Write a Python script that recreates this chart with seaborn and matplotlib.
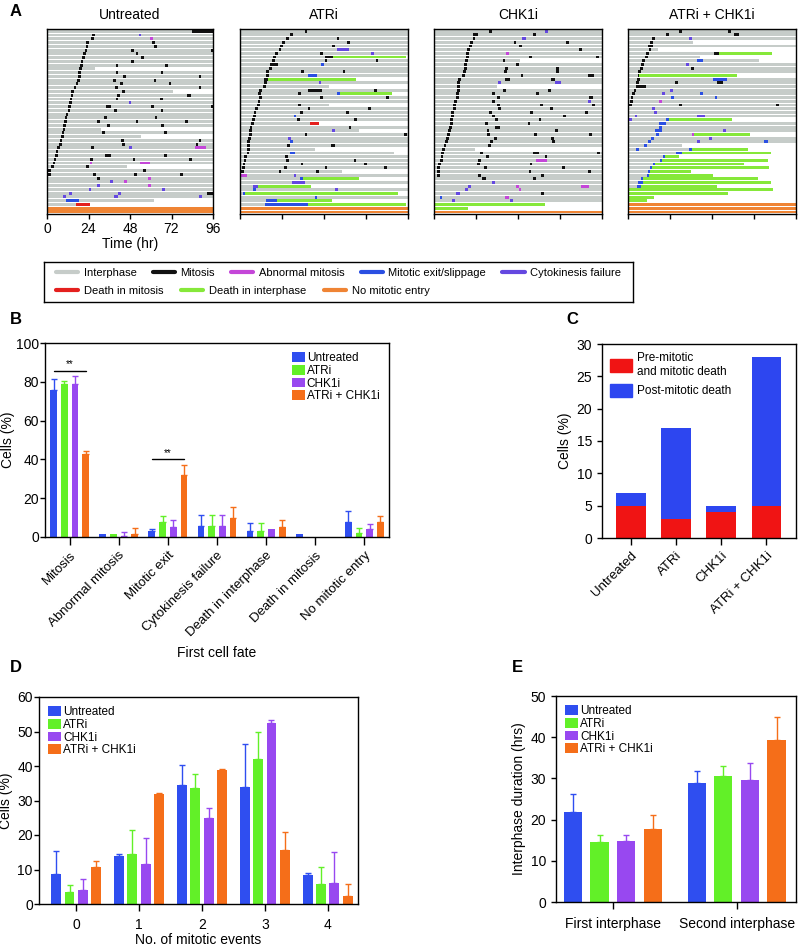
import numpy as np
import pandas as pd
import matplotlib
matplotlib.use('Agg')
import matplotlib.pyplot as plt
from matplotlib.lines import Line2D
from matplotlib.patches import Patch
import seaborn as sns

# ---------------- DATA ----------------
groups = ['Untreated', 'ATRi', 'CHK1i', 'ATRi + CHK1i']
group_colors = ['#2f4ef0', '#62f028', '#9848f0', '#f56e19']

# Panel A: single cell traces. first = time of first mitosis per row (starting at *_first_row),
# events = (row, start hr, duration hr, kind), stops = rows whose track ends before 96 h
untreated_rows = 49
untreated_first_row = 1
untreated_first = [26.3, 25.7, 22.7, 22.3, 21.7, 20.7, 20.2, 19.4, 19.0, 18.6, 18.2, 17.9, 17.5,
                   16.5, 15.4, 13.8, 13.6, 13.1, 12.7, 12.3, 11.9, 10.8, 10.2, 9.8, 9.4, 9.0,
                   8.4, 8.1, 7.3, 6.9, 5.8, 5.0, 4.6, 3.8, 3.3, 2.3, 0.8, 0.6]
untreated_stops = {10: 28, 16: 73, 26: 31, 28: 54.5, 36: 46, 45: 62, 46: 25}
untreated_events = [
    (0, 84, 12, 'M'), (1, 53, 1.6, 'C'), (2, 59.5, 1.6, 'A'), (3, 61, 1.6, 'M'), (4, 62, 1.6, 'M'),
    (5, 48.5, 1.6, 'M'), (5, 95, 1, 'M'), (6, 51.3, 1.6, 'M'), (7, 54.3, 1.6, 'M'), (8, 48.6, 1.6, 'M'),
    (9, 39.7, 1.6, 'M'), (9, 68.5, 1.6, 'M'), (11, 39.7, 1.6, 'M'), (11, 65.7, 1.6, 'M'),
    (12, 43.8, 1.6, 'M'), (12, 87.7, 1.6, 'M'), (13, 38.4, 1.6, 'M'), (13, 61.6, 1.6, 'M'),
    (14, 42.2, 1.6, 'M'), (14, 70.3, 1.6, 'M'), (15, 39.4, 1.6, 'M'), (15, 87.7, 1.6, 'M'),
    (16, 43.4, 1.6, 'M'), (17, 40.7, 1.6, 'M'), (17, 81, 2.2, 'M'), (18, 39.7, 1.6, 'M'),
    (18, 65.3, 1.6, 'M'), (19, 47.2, 1.6, 'C'), (20, 34, 3, 'M'), (20, 60.3, 1.6, 'M'),
    (20, 95, 1, 'M'), (21, 39, 1.6, 'M'), (21, 65.7, 1.6, 'M'), (23, 33, 1.6, 'M'),
    (23, 62.2, 1.6, 'M'), (24, 28.8, 1.6, 'M'), (24, 51.3, 1.6, 'M'), (24, 79.9, 1.6, 'M'),
    (25, 34.6, 1.6, 'M'), (25, 66, 1.6, 'M'), (27, 31.9, 1.6, 'M'), (27, 67.6, 1.6, 'M'),
    (29, 42.8, 1.6, 'M'), (29, 87.7, 1.6, 'M'), (30, 43.6, 1.6, 'M'), (30, 86, 1.6, 'M'),
    (31, 25.3, 2, 'M'), (31, 47.4, 1.6, 'C'), (31, 85.4, 6.8, 'A'), (33, 33.6, 3.3, 'M'),
    (33, 67.6, 1.6, 'M'), (34, 24.8, 1.6, 'M'), (34, 49.5, 1.6, 'M'), (34, 82, 1.6, 'M'),
    (35, 24.6, 1.6, 'A'), (35, 53.8, 5.7, 'A'), (36, 22.8, 1.6, 'M'), (37, 55.7, 1.6, 'M'),
    (38, 26.5, 1.6, 'M'), (38, 50.3, 1.6, 'M'), (38, 76.8, 1.6, 'M'), (39, 29, 1.6, 'M'),
    (39, 58.6, 1.6, 'A'), (40, 36.3, 1.6, 'C'), (40, 44.7, 1.6, 'A'), (41, 29.2, 1.6, 'C'),
    (41, 58.4, 1.6, 'A'), (42, 24, 1.5, 'C'), (42, 66.6, 1.6, 'C'), (43, 12.7, 1.6, 'C'),
    (43, 41.3, 1.6, 'C'), (43, 92.5, 3.5, 'M'), (44, 9.4, 1.6, 'C'), (44, 38.8, 2.5, 'C'),
    (44, 88, 1.6, 'C'), (45, 10.8, 7.6, 'X'), (46, 16.9, 8.1, 'D'),
    (47, 0, 96, 'N'), (48, 0, 96, 'N'),
]

atri_rows = 50
atri_first_row = 0
atri_first = [36.9, 28.8, 26.5, 24.1, 22.7, 22.0, 19.9, 18.7, 18.3, 17.2, 16.8, 15.1, 14.7, 13.9,
              13.9, 13.2, 10.9, 10.5, 10.9, 10.1, 9.6, 8.6, 7.8, 7.4, 7.1, 6.3, 5.5, 5.3, 5.2,
              4.6, 4.2, 4.2, 4.2, 3.8, 2.5, 2.1, 1.5, 1.0, 0.6]
atri_stops = {7: 95, 13: 66, 15: 51, 17: 87, 20: 51, 25: 45, 27: 68, 32: 43, 33: 88, 38: 58.4,
              40: 68, 42: 40.7, 44: 90.3, 46: 52.3, 47: 95}
atri_events = [
    (2, 55.2, 1.6, 'M'), (3, 61.3, 1.6, 'M'), (4, 52.7, 1.6, 'M'), (5, 55.4, 6.9, 'C'),
    (6, 45.8, 1.6, 'M'), (6, 75, 1.6, 'C'), (7, 48.7, 4.4, 'M'), (7, 53.1, 42, 'I'),
    (8, 48.3, 1.6, 'M'), (8, 77.5, 1.6, 'M'), (9, 17.2, 4.6, 'M'), (9, 46.4, 1.6, 'X'),
    (11, 35, 1.6, 'M'), (11, 58.6, 1.6, 'M'), (12, 39, 5, 'X'), (13, 13.9, 2.1, 'M'),
    (13, 16, 50, 'I'), (14, 44.9, 1.6, 'C'), (16, 39, 7.6, 'M'), (16, 76.4, 1.6, 'M'),
    (17, 33.4, 1.6, 'M'), (17, 55.4, 1.9, 'X'), (17, 57.3, 29.8, 'I'), (18, 45.8, 1.6, 'M'),
    (18, 83.3, 1.6, 'M'), (20, 33, 1.6, 'M'), (21, 38.6, 1.6, 'M'), (21, 73.2, 1.6, 'M'),
    (22, 34.2, 1.6, 'M'), (22, 60.7, 1.6, 'M'), (23, 30.6, 1.6, 'X'), (24, 32.5, 1.6, 'M'),
    (24, 65.3, 1.6, 'M'), (25, 40.1, 5, 'D'), (26, 62, 1.6, 'M'), (27, 52.7, 1.6, 'C'),
    (28, 36.9, 1.6, 'M'), (28, 93.6, 1.6, 'M'), (29, 27.3, 1.6, 'C'), (30, 28.5, 1.6, 'X'),
    (31, 27.1, 1.6, 'M'), (31, 52.1, 2.4, 'M'), (33, 28.6, 3.1, 'X'), (34, 25.8, 1.6, 'M'),
    (35, 26.2, 1.6, 'M'), (35, 64.9, 1.6, 'M'), (36, 34.6, 1.6, 'M'), (36, 70.7, 1.6, 'M'),
    (37, 25, 1.6, 'M'), (37, 48.3, 1.6, 'M'), (37, 82.5, 1.6, 'M'), (38, 22, 1.6, 'M'),
    (38, 43.5, 1.6, 'M'), (39, 0.6, 3.2, 'A'), (39, 30.6, 1.6, 'C'), (40, 34.4, 1.5, 'X'),
    (40, 35.9, 32.1, 'I'), (41, 29.8, 7.4, 'C'), (42, 7.6, 2.7, 'C'), (42, 10.3, 30.4, 'I'),
    (43, 7.3, 1.6, 'X'), (43, 54.4, 1.6, 'C'), (44, 1.9, 1.1, 'X'), (44, 3, 87.3, 'I'),
    (45, 42.6, 1.6, 'X'), (46, 14.9, 6.1, 'X'), (46, 21, 31.3, 'I'), (47, 14.5, 24.3, 'X'),
    (47, 38.8, 56.3, 'I'), (48, 0, 96, 'N'), (49, 0, 96, 'N'),
]

chk1i_rows = 50
chk1i_first_row = 0
chk1i_first = [31.5, 22.0, 22.0, 20.6, 20.0, 19.1, 18.5, 18.5, 17.6, 17.0, 17.0, 16.8, 16.2, 13.9,
               13.4, 13.0, 13.0, 12.6, 12.4, 11.7, 11.1, 11.1, 9.9, 9.6, 9.2, 9.0, 8.8, 8.2, 7.6,
               6.9, 6.3, 5.5, 4.8, 4.2, 3.8, 3.4, 2.5, 1.9, 1.7, 1.9]
chk1i_stops = {8: 49.3, 15: 36, 32: 23.3, 47: 63.6, 48: 19.7}
chk1i_events = [
    (0, 63.6, 1.6, 'C'), (1, 22, 3.4, 'M'), (1, 56.7, 1.6, 'M'), (2, 50, 2.5, 'C'),
    (3, 45.5, 1.6, 'M'), (3, 75.4, 1.6, 'M'), (4, 48.5, 1.6, 'M'), (5, 83, 1.6, 'M'),
    (6, 41.3, 1.6, 'A'), (7, 54.4, 1.6, 'M'), (7, 92.6, 1.6, 'M'), (8, 39.2, 1.6, 'M'),
    (9, 47, 1.6, 'M'), (10, 40.7, 1.6, 'M'), (10, 69.7, 1.6, 'M'), (11, 40, 1.6, 'M'),
    (11, 69.7, 1.6, 'M'), (12, 49.5, 1.6, 'M'), (12, 88, 3.7, 'M'), (13, 40.5, 3.2, 'M'),
    (13, 66.8, 2.5, 'M'), (14, 36.7, 1.6, 'C'), (14, 69.3, 3.5, 'C'), (16, 39.5, 1.6, 'M'),
    (16, 65, 1.6, 'M'), (17, 33.2, 1.6, 'M'), (17, 58.3, 1.6, 'M'), (18, 88.8, 2, 'M'),
    (18, 36, 1.6, 'M'), (19, 33, 1.6, 'M'), (19, 88, 1.6, 'C'), (20, 60.7, 1.6, 'M'),
    (20, 90.3, 1.6, 'M'), (20, 36, 1.6, 'M'), (21, 36.5, 1.6, 'M'), (21, 66.5, 1.6, 'M'),
    (22, 31.3, 1.6, 'M'), (22, 54.8, 1.6, 'M'), (22, 86.3, 1.8, 'M'), (23, 73.9, 1.6, 'M'),
    (23, 33, 1.6, 'M'), (24, 35, 1.6, 'M'), (24, 59.8, 1.6, 'M'), (25, 29.2, 1.6, 'M'),
    (25, 53.5, 1.6, 'M'), (26, 35, 2.8, 'M'), (27, 69.1, 1.6, 'M'), (27, 30, 1.6, 'M'),
    (28, 30.2, 1.6, 'M'), (28, 57.3, 1.6, 'M'), (28, 88.8, 1.6, 'M'), (29, 34.4, 1.6, 'M'),
    (29, 67, 1.6, 'M'), (30, 31.9, 1.6, 'M'), (30, 67.5, 1.6, 'M'), (31, 31, 1.6, 'M'),
    (33, 26.4, 1.6, 'M'), (33, 56.3, 3.9, 'M'), (33, 93.2, 1.6, 'M'), (34, 29.6, 1.6, 'M'),
    (34, 63.2, 1.6, 'M'), (35, 25.2, 1.6, 'M'), (35, 58.3, 6.3, 'A'), (36, 24.4, 1.6, 'M'),
    (36, 54.6, 1.6, 'M'), (37, 28.8, 1.6, 'M'), (37, 73, 1.6, 'M'), (38, 54, 1.6, 'M'),
    (38, 88, 1.6, 'M'), (39, 25, 1.6, 'M'), (39, 61.1, 1.6, 'M'), (40, 27.5, 2.1, 'M'),
    (40, 56.7, 1.6, 'M'), (41, 33.2, 1.6, 'C'), (42, 19.7, 1.6, 'C'), (42, 47, 1.6, 'A'),
    (42, 84, 4.8, 'A'), (43, 17.8, 1.6, 'C'), (43, 48.3, 1.6, 'A'), (44, 12.4, 2.3, 'C'),
    (44, 61.3, 1.6, 'M'), (45, 3.2, 1.6, 'X'), (45, 40.5, 2.1, 'A'), (46, 10.5, 1.6, 'C'),
    (46, 43.5, 1.6, 'C'), (47, 0, 63.6, 'I'), (48, 0, 19.7, 'I'), (49, 0, 96, 'N'),
]

combo_rows = 50
combo_first_row = 0
combo_first = [29.4, 21.6, 13.9, 12.6, 11.6, 11.8, 10.5, 9.7, 8.2, 7.3, 6.7, 5.7, 5.5, 5.2, 4.4,
               4.4, 3.2, 2.3, 1.5, 1.0, 0.6]
combo_stops = {3: 37.4, 5: 17.4, 6: 82.3, 7: 41, 8: 75, 12: 62, 24: 59.4, 28: 69.7, 31: 30.8,
               32: 68.8, 33: 81.8, 34: 29.2, 35: 79.8, 36: 66.5, 37: 80.8, 38: 35.9, 39: 48.3,
               40: 74.5, 41: 81.9, 42: 50.8, 43: 83.1, 44: 57.3, 45: 14.9, 46: 10.7}
combo_events = [
    (0, 57.3, 1.6, 'M'), (1, 60.3, 3.3, 'M'), (2, 35.1, 1.6, 'C'), (4, 11.6, 2.7, 'M'),
    (6, 49.3, 2.8, 'M'), (6, 52.1, 30.2, 'I'), (8, 39.7, 3.3, 'X'), (9, 33.4, 1.6, 'C'),
    (10, 36.1, 1.6, 'M'), (12, 6.3, 55.7, 'I'), (13, 48.7, 7.8, 'X'), (14, 26.9, 1.6, 'M'),
    (14, 50.6, 3.4, 'M'), (15, 4.4, 6.1, 'M'), (16, 24, 1.6, 'C'), (17, 19.5, 1.6, 'C'),
    (17, 41.2, 1.6, 'X'), (18, 24.6, 1.6, 'X'), (18, 49.5, 1.6, 'X'), (19, 17.8, 1.6, 'A'),
    (20, 29.4, 1.6, 'M'), (20, 84.6, 1.6, 'M'), (21, 13.6, 1.6, 'C'), (22, 14.9, 1.6, 'C'),
    (23, 3.8, 1.6, 'C'), (23, 39.2, 4.9, 'C'), (24, 0.8, 1.6, 'C'), (24, 21.6, 1.6, 'X'),
    (24, 23.2, 36.2, 'I'), (25, 17.8, 3.8, 'X'), (26, 17.8, 1.6, 'X'), (27, 15.5, 4.2, 'X'),
    (27, 54.4, 1.6, 'C'), (28, 15.9, 1.6, 'X'), (28, 36.5, 1, 'A'), (28, 37.5, 32.2, 'I'),
    (29, 13.4, 1.6, 'X'), (29, 46.4, 1.6, 'C'), (30, 11.3, 1.6, 'X'), (30, 39.3, 1.6, 'C'),
    (30, 77.5, 2.5, 'X'), (31, 9.2, 1.6, 'X'), (32, 4.8, 1.6, 'X'), (32, 35.1, 1.6, 'X'),
    (32, 36.7, 32.1, 'I'), (33, 27.7, 3.4, 'X'), (33, 31.1, 50.7, 'I'), (34, 20.2, 1.2, 'X'),
    (34, 21.4, 7.8, 'I'), (35, 18.1, 1.2, 'X'), (35, 19.3, 60.5, 'I'), (36, 14.3, 1.2, 'X'),
    (36, 15.5, 51, 'I'), (37, 12.4, 1.2, 'X'), (37, 13.6, 67.2, 'I'), (38, 11.5, 1.2, 'X'),
    (38, 12.7, 23.2, 'I'), (39, 10.7, 1.2, 'X'), (39, 11.9, 36.4, 'I'), (40, 7.4, 1.2, 'X'),
    (40, 8.6, 65.9, 'I'), (41, 5.9, 2.7, 'X'), (41, 8.6, 73.3, 'I'), (42, 5.3, 2.3, 'X'),
    (42, 7.6, 43.2, 'I'), (43, 0, 83.1, 'I'), (44, 0, 57.3, 'I'), (45, 0, 14.9, 'I'),
    (46, 0, 10.7, 'I'), (47, 0, 96, 'N'), (48, 0, 96, 'N'), (49, 0, 96, 'N'),
]

fate_kinds = ['P', 'M', 'A', 'X', 'C', 'D', 'I', 'N']
fate_labels = ['Interphase', 'Mitosis', 'Abnormal mitosis', 'Mitotic exit/slippage',
               'Cytokinesis failure', 'Death in mitosis', 'Death in interphase', 'No mitotic entry']
fate_colors = ['#c6ccc9', '#111111', '#c446d8', '#2a4fe2', '#6448e0', '#e4201e', '#86e83a', '#ef8434']

# Panel B
fate_cats = ['Mitosis', 'Abnormal mitosis', 'Mitotic exit', 'Cytokinesis failure',
             'Death in interphase', 'Death in mitosis', 'No mitotic entry']
fate_untreated = [76, 1.7, 2.9, 5.9, 2.9, 1.7, 7.9]
fate_atri = [78.8, 1.7, 7.8, 5.9, 2.9, 0, 1.9]
fate_chk1i = [78.8, 0.7, 5, 5.9, 4, 0, 4]
fate_combo = [43, 1.7, 31.8, 9.8, 5, 0, 7.9]
fate_untreated_err = [5.5, 0, 1.4, 5.5, 4.2, 0, 5.7]
fate_atri_err = [1.7, 0, 2.9, 5.5, 4.2, 0, 2.9]
fate_chk1i_err = [4.4, 1.7, 4, 5.5, 0, 0, 2.6]
fate_combo_err = [1.2, 3.1, 5.5, 5.9, 4, 0, 2.8]

# Panel C
death_cats = ['Untreated', 'ATRi', 'CHK1i', 'ATRi + CHK1i']
death_pre = [5, 3, 4, 5]
death_post = [2, 14, 1, 23]

# Panel D
event_cats = ['0', '1', '2', '3', '4']
events_untreated = [8.7, 13.8, 34.5, 33.8, 8.3]
events_atri = [3.5, 14.5, 33.6, 41.9, 5.8]
events_chk1i = [4.1, 11.5, 25, 52.5, 6]
events_combo = [10.7, 31.9, 38.8, 15.6, 2.3]
events_untreated_err = [6.8, 0.6, 5.7, 12.6, 0.8]
events_atri_err = [1.9, 7, 4.1, 8, 5]
events_chk1i_err = [3.1, 7.7, 2.8, 0.8, 9]
events_combo_err = [1.9, 0.3, 0.2, 5.2, 3.5]

# Panel E
phase_cats = ['First interphase', 'Second interphase']
phase_untreated = [21.9, 28.8]
phase_atri = [14.5, 30.5]
phase_chk1i = [14.8, 29.6]
phase_combo = [17.8, 39.3]
phase_untreated_err = [4.4, 3.1]
phase_atri_err = [1.7, 2.6]
phase_chk1i_err = [1.4, 4.2]
phase_combo_err = [3.3, 5.7]

# ---------------- STYLE ----------------
sns.set_style('ticks', {'axes.edgecolor': 'black', 'xtick.color': 'black', 'ytick.color': 'black',
                        'text.color': 'black', 'axes.labelcolor': 'black'})
plt.rcParams['font.family'] = ['Liberation Sans', 'DejaVu Sans']
plt.rcParams['axes.linewidth'] = 1.0
plt.rcParams['xtick.major.width'] = 1.0
plt.rcParams['ytick.major.width'] = 1.0
plt.rcParams['xtick.major.size'] = 3.5
plt.rcParams['ytick.major.size'] = 3.5

W, H = 799, 948
fig = plt.figure(figsize=(W / 100, H / 100), dpi=100)


def rect(x0, y0, x1, y1):
    return [x0 / W, 1 - y1 / H, (x1 - x0) / W, (y1 - y0) / H]


kind_color = dict(zip(fate_kinds, fate_colors))


def draw_traces(ax, nrows, first_row, first, stops, events):
    rows = np.arange(nrows)
    ends = [stops.get(r, 96) for r in rows]
    ax.barh(rows, ends, left=0, height=0.78, color=kind_color['P'], linewidth=0)
    ev = list(events) + [(first_row + i, t, 1.6, 'M') for i, t in enumerate(first)]
    for kind in fate_kinds[1:]:
        sel = [e for e in ev if e[3] == kind]
        if not sel:
            continue
        ax.barh([e[0] for e in sel], [e[2] for e in sel], left=[e[1] for e in sel],
                height=0.78, color=kind_color[kind], linewidth=0)
    ax.set_xlim(0, 96)
    ax.set_ylim(nrows - 0.45, -0.6)
    ax.set_yticks([])
    ax.set_xticks([0, 24, 48, 72, 96])


trace_panels = [
    ('Untreated', rect(47, 29, 213, 214), untreated_rows, untreated_first_row, untreated_first,
     untreated_stops, untreated_events),
    ('ATRi', rect(240, 29, 408, 214), atri_rows, atri_first_row, atri_first, atri_stops, atri_events),
    ('CHK1i', rect(434, 29, 602, 214), chk1i_rows, chk1i_first_row, chk1i_first, chk1i_stops,
     chk1i_events),
    ('ATRi + CHK1i', rect(628, 29, 796, 214), combo_rows, combo_first_row, combo_first,
     combo_stops, combo_events),
]
for i, (title, r, n, fr, first, stops, events) in enumerate(trace_panels):
    ax = fig.add_axes(r)
    draw_traces(ax, n, fr, first, stops, events)
    ax.set_title(title, fontsize=10, pad=7)
    if i == 0:
        ax.tick_params(axis='x', labelsize=10, pad=2)
        ax.set_xlabel('Time (hr)', fontsize=10, labelpad=1)
    else:
        ax.set_xticklabels([])

# legend box for A
lax = fig.add_axes(rect(44, 262, 633, 302))
lax.set_xticks([])
lax.set_yticks([])
handles = [Line2D([], [], color=c, lw=3) for c in fate_colors]
leg_kw = dict(frameon=False, fontsize=8.0, handlelength=2.0, handletextpad=0.5,
              borderaxespad=0, borderpad=0, loc='center left')
leg1 = lax.legend(handles[:5], fate_labels[:5], ncol=5, bbox_to_anchor=(12 / 589, 0.73),
                  columnspacing=1.45, **leg_kw)
lax.add_artist(leg1)
lax.legend(handles[5:], fate_labels[5:], ncol=3, bbox_to_anchor=(12 / 589, 0.27),
           columnspacing=1.6, **leg_kw)


def grouped_bars(ax, cats, values, errs, width, gap):
    recs = []
    for g, vals in zip(groups, values):
        for c, v in zip(cats, vals):
            recs.append((c, g, v))
    df = pd.DataFrame(recs, columns=['cat', 'group', 'val'])
    sns.barplot(data=df, x='cat', y='val', hue='group', order=cats, hue_order=groups,
                palette=group_colors, saturation=1, width=width, gap=gap, errorbar=None,
                linewidth=0, ax=ax)
    for cont, errlist, col in zip(ax.containers, errs, group_colors):
        for bar, e in zip(cont, errlist):
            if e <= 0:
                continue
            x = bar.get_x() + bar.get_width() / 2
            h = bar.get_height()
            ax.errorbar(x, h, yerr=[[0], [e]], fmt='none', ecolor=col, elinewidth=1,
                        capsize=2.5, capthick=1)
    h, l = ax.get_legend_handles_labels()
    return h, l


bar_leg = dict(frameon=False, fontsize=8.5, handlelength=1.1, handleheight=0.9,
               handletextpad=0.15, labelspacing=0.05, borderaxespad=0.4)

# ---------------- B ----------------
axb = fig.add_axes(rect(45, 343, 389, 537))
hb, lb = grouped_bars(axb, fate_cats, [fate_untreated, fate_atri, fate_chk1i, fate_combo],
                      [fate_untreated_err, fate_atri_err, fate_chk1i_err, fate_combo_err], 0.87, 0.37)
axb.set_ylim(0, 100)
axb.set_xlim(-0.5, 6.5)
axb.set_yticks(range(0, 101, 20))
axb.set_xticks(range(len(fate_cats)))
axb.set_xticklabels(fate_cats, rotation=45, ha='right', rotation_mode='anchor')
axb.tick_params(axis='y', labelsize=10, pad=1)
axb.tick_params(axis='x', labelsize=9.5, length=5.5)
axb.set_xlabel('First cell fate', fontsize=10, labelpad=5)
axb.set_ylabel('Cells (%)', fontsize=10)
axb.yaxis.set_label_coords(-0.088, 0.5)
axb.legend(hb, lb, loc='upper right', **bar_leg)
for gi, y in [(0, 85.5), (2, 40)]:
    x0 = axb.containers[0][gi].get_x() + axb.containers[0][gi].get_width() / 2
    x1 = axb.containers[3][gi].get_x() + axb.containers[3][gi].get_width() / 2
    axb.plot([x0, x1], [y, y], color='black', lw=1)
    axb.text((x0 + x1) / 2, y + 0.8, '**', ha='center', va='bottom', fontsize=7)

# ---------------- C ----------------
axc = fig.add_axes(rect(602, 344, 796, 538))
death_total = [a + b for a, b in zip(death_pre, death_post)]
sns.barplot(x=death_cats, y=death_total, color='#2d46f0', saturation=1, width=0.65,
            linewidth=0, ax=axc)
sns.barplot(x=death_cats, y=death_pre, color='#f01414', saturation=1, width=0.65,
            linewidth=0, ax=axc)
axc.set_ylim(0, 30)
axc.set_xlim(-0.64, 3.66)
axc.set_yticks(range(0, 31, 5))
axc.set_xticks(range(4))
axc.set_xticklabels(death_cats, rotation=45, ha='right', rotation_mode='anchor')
axc.tick_params(axis='y', labelsize=10)
axc.tick_params(axis='x', labelsize=9.5, length=5)
axc.set_ylabel('Cells (%)', fontsize=10, labelpad=3)
axc.legend([Patch(color='#f01414'), Patch(color='#2d46f0')],
           ['Pre-mitotic\nand mitotic death', 'Post-mitotic death'], loc='upper left',
           frameon=False, fontsize=8.5, handlelength=1.8, handleheight=1.3,
           handletextpad=0.5, labelspacing=0.5, borderaxespad=0.3)

# ---------------- D ----------------
axd = fig.add_axes(rect(39, 697, 358, 904))
hd, ld = grouped_bars(axd, event_cats, [events_untreated, events_atri, events_chk1i, events_combo],
                      [events_untreated_err, events_atri_err, events_chk1i_err, events_combo_err],
                      0.84, 0.25)
axd.set_ylim(0, 60)
axd.set_xlim(-0.59, 4.48)
axd.set_yticks(range(0, 61, 10))
axd.tick_params(labelsize=10)
axd.tick_params(axis='y', pad=1)
axd.tick_params(axis='x', length=5, pad=5)
axd.set_xlabel('No. of mitotic events', fontsize=10, labelpad=1)
axd.set_ylabel('Cells (%)', fontsize=10)
axd.yaxis.set_label_coords(-0.08, 0.5)
axd.legend(hd, ld, loc='upper left', **bar_leg)

# ---------------- E ----------------
axe = fig.add_axes(rect(556, 696, 796, 902))
he, le = grouped_bars(axe, phase_cats, [phase_untreated, phase_atri, phase_chk1i, phase_combo],
                      [phase_untreated_err, phase_atri_err, phase_chk1i_err, phase_combo_err],
                      0.86, 0.31)
axe.set_ylim(0, 50)
axe.set_xlim(-0.46, 1.48)
axe.set_yticks(range(0, 51, 10))
axe.tick_params(labelsize=10)
axe.tick_params(axis='x', length=5, pad=6)
axe.set_xlabel('')
axe.set_ylabel('Interphase duration (hrs)', fontsize=10, labelpad=3)
axe.legend(he, le, loc='upper left', **bar_leg)

# panel letters
for letter, x, y in [('A', 10, 12), ('B', 10, 320), ('C', 566, 320), ('D', 10, 668), ('E', 512, 668)]:
    fig.text(x / W, 1 - y / H, letter, fontsize=12, fontweight='bold', va='center', ha='left')

fig.savefig('out.png', dpi=100)
